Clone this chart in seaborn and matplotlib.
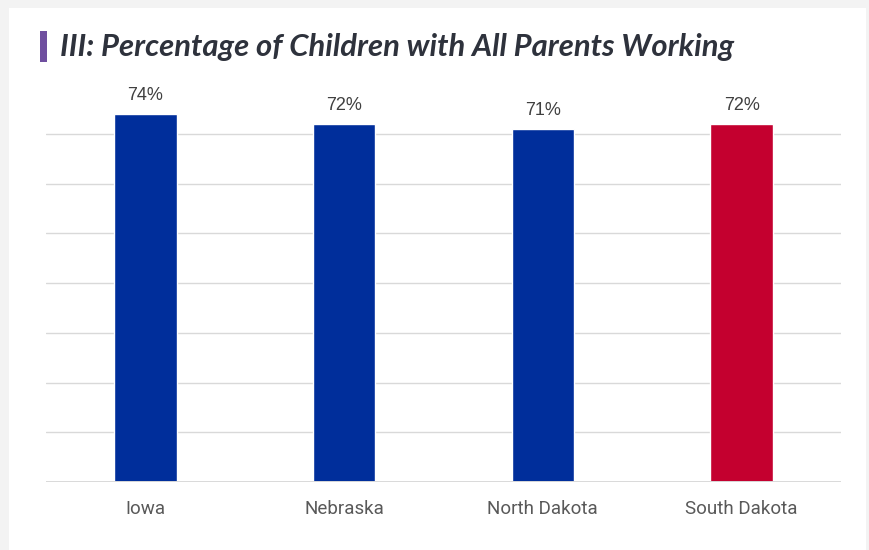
import matplotlib
matplotlib.use("Agg")
import matplotlib.pyplot as plt
from matplotlib.patches import Rectangle
import seaborn as sns
import pandas as pd

states = ["Iowa", "Nebraska", "North Dakota", "South Dakota"]
percent = [74, 72, 71, 72]
bar_colors = ["#002e9b", "#002e9b", "#002e9b", "#c4002f"]
title = "III: Percentage of Children with All Parents Working"

df = pd.DataFrame({"state": states, "percent": percent})

sns.set_theme(style="white")
plt.rcParams["font.family"] = ["Roboto", "DejaVu Sans"]

W, H = 870, 550
fig = plt.figure(figsize=(W / 100, H / 100), dpi=100)
fig.patch.set_facecolor("#f3f3f3")

# white card behind the chart
fig.patches.append(Rectangle((9 / W, 0), (866 - 9) / W, (H - 8) / H,
                             transform=fig.transFigure, facecolor="white",
                             edgecolor="none", zorder=-1))

ax = fig.add_axes([46 / W, (H - 482) / H, (841 - 46) / W, (482 - 84.3) / H])
ax.set_facecolor("none")

sns.barplot(data=df, x="state", y="percent", hue="state", palette=bar_colors,
            legend=False, width=0.315, ax=ax, saturation=1, zorder=3)

ax.set_ylim(0, 80)
ax.set_xlim(-0.5, len(states) - 0.5)
for v in range(10, 80, 10):
    ax.axhline(v, color="#d9d9d9", lw=1.0, zorder=1)
ax.axhline(0, color="#d9d9d9", lw=1.4, zorder=4)

for i, v in enumerate(percent):
    ax.text(i, v + 2.8, f"{v}%", ha="center", va="baseline",
            fontsize=13, color="#404040",
            family=["Liberation Sans", "DejaVu Sans"])

ax.set_yticks([])
ax.set_xlabel("")
ax.set_ylabel("")
ax.tick_params(axis="x", length=0, pad=13, labelsize=13.5, labelcolor="#595959")
for s in ax.spines.values():
    s.set_visible(False)

# title with accent bar
fig.patches.append(Rectangle((40 / W, (H - 62) / H), 7 / W, 31 / H,
                             transform=fig.transFigure, facecolor="#6f4f9f",
                             edgecolor="none", zorder=2))
fig.text(60 / W, (H - 47) / H, title, ha="left", va="center",
         fontsize=22.3, fontweight="bold", fontstyle="italic",
         family=["Lato", "DejaVu Sans"], color="#2e323c")

fig.savefig("out.png", dpi=100, facecolor=fig.get_facecolor())
